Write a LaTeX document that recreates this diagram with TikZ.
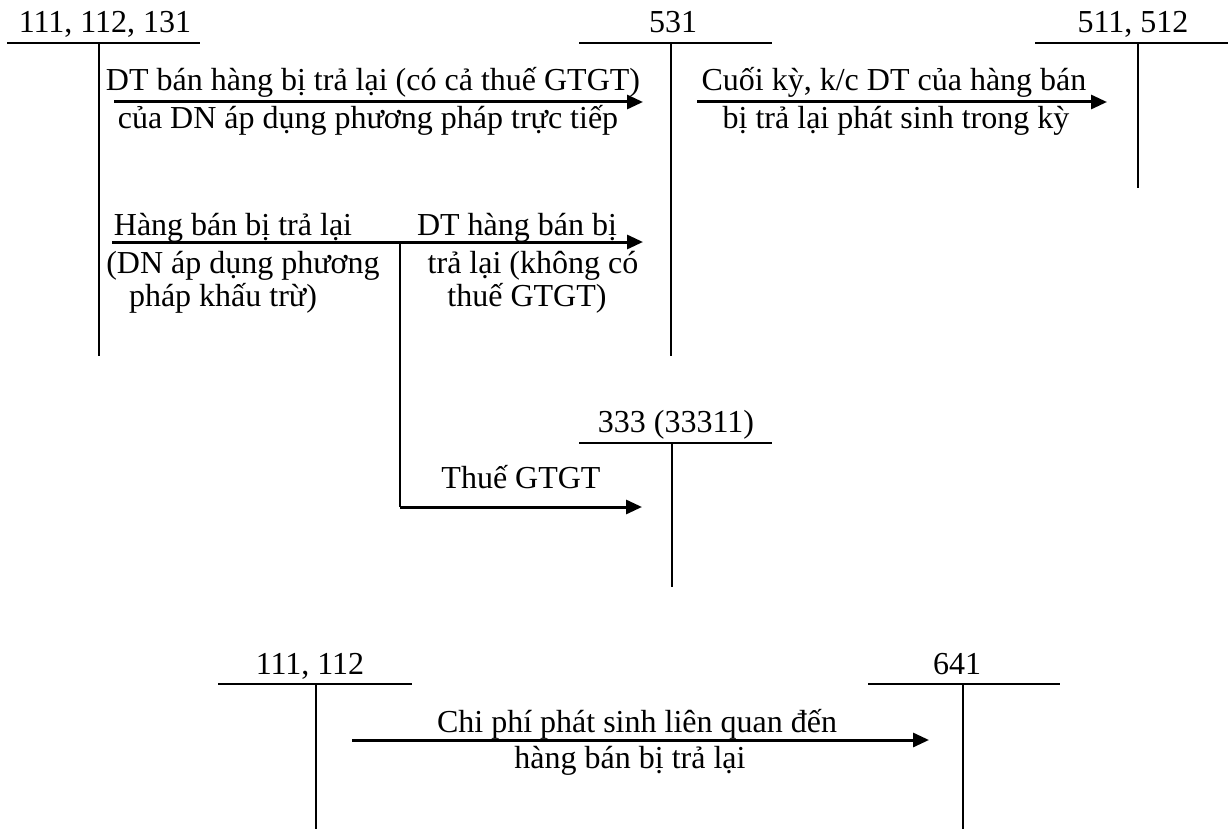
\documentclass[tikz,border=0pt]{standalone}
\usepackage{fontspec}
\setmainfont{Liberation Serif}
\usetikzlibrary{arrows.meta}
\begin{document}
\begin{tikzpicture}[x=1pt,y=-1pt,
  tline/.style={line width=2pt},
  flow/.style={line width=3pt,-{Triangle[length=16pt,width=14pt]}},
  lbl/.style={inner sep=0pt,anchor=base,font=\fontsize{32}{38}\selectfont}]
\useasboundingbox (0,0) rectangle (1228,829);

% ---- T accounts ----
% 111, 112, 131
\node[lbl] (n111) at (105,33) {111, 112, 131};
\coordinate (a1l) at (7,43);   \coordinate (a1r) at (200,43);
\coordinate (a1t) at (99,43);  \coordinate (a1b) at (99,356);
\draw[tline] (a1l) -- (a1r);
\draw[tline] (a1t) -- (a1b);
% 531
\node[lbl] (n531) at (673,33) {531};
\coordinate (a2l) at (579,43);  \coordinate (a2r) at (772,43);
\coordinate (a2t) at (671,43);  \coordinate (a2b) at (671,356);
\draw[tline] (a2l) -- (a2r);
\draw[tline] (a2t) -- (a2b);
% 511, 512
\node[lbl] (n511) at (1133,33) {511, 512};
\coordinate (a3l) at (1035,43);  \coordinate (a3r) at (1228,43);
\coordinate (a3t) at (1138,43);  \coordinate (a3b) at (1138,188);
\draw[tline] (a3l) -- (a3r);
\draw[tline] (a3t) -- (a3b);
% 333 (33311)
\node[lbl] (n333) at (676,432) {333 (33311)};
\coordinate (a4l) at (579,443);  \coordinate (a4r) at (772,443);
\coordinate (a4t) at (672,443);  \coordinate (a4b) at (672,587);
\draw[tline] (a4l) -- (a4r);
\draw[tline] (a4t) -- (a4b);
% 111, 112
\node[lbl] (n111b) at (310,674) {111, 112};
\coordinate (a5l) at (218,684);  \coordinate (a5r) at (412,684);
\coordinate (a5t) at (316,684);  \coordinate (a5b) at (316,829);
\draw[tline] (a5l) -- (a5r);
\draw[tline] (a5t) -- (a5b);
% 641
\node[lbl] (n641) at (957,674) {641};
\coordinate (a6l) at (868,684);  \coordinate (a6r) at (1060,684);
\coordinate (a6t) at (963,684);  \coordinate (a6b) at (963,829);
\draw[tline] (a6l) -- (a6r);
\draw[tline] (a6t) -- (a6b);

% ---- flows ----
\coordinate (f1s) at (114,102); \coordinate (f1e) at (643,102);
\draw[flow] (f1s) -- (f1e);
\node[lbl] (t1a) at (373,91) {DT bán hàng bị trả lại (có cả thuế GTGT)};
\node[lbl] (t1b) at (368,129) {của DN áp dụng phương pháp trực tiếp};

\coordinate (f2s) at (697,102); \coordinate (f2e) at (1107,102);
\draw[flow] (f2s) -- (f2e);
\node[lbl] (t2a) at (894,91) {Cuối kỳ, k/c DT của hàng bán};
\node[lbl] (t2b) at (896,129) {bị trả lại phát sinh trong kỳ};

\coordinate (f3s) at (112,242); \coordinate (f3e) at (643,242);
\coordinate (br) at (400,242); \coordinate (brb) at (400,507);
\coordinate (f4e) at (642,507);
\draw[flow] (f3s) -- (f3e);
\draw[tline] (br) -- (brb);
\draw[flow] (brb) -- (f4e);
\node[lbl] (t3a) at (233,235) {Hàng bán bị trả lại};
\node[lbl] (t3b) at (243,273) {(DN áp dụng phương};
\node[lbl] (t3c) at (223,306) {pháp khấu trừ)};
\node[lbl] (t4a) at (517,235) {DT hàng bán bị};
\node[lbl] (t4b) at (533,273) {trả lại (không có};
\node[lbl] (t4c) at (527,306) {thuế GTGT)};
\node[lbl] (t5) at (521,488) {Thuế GTGT};

\coordinate (f6s) at (352,740); \coordinate (f6e) at (929,740);
\draw[flow] (f6s) -- (f6e);
\node[lbl] (t6a) at (637,732) {Chi phí phát sinh liên quan đến};
\node[lbl] (t6b) at (630,768) {hàng bán bị trả lại};
\end{tikzpicture}
\end{document}
